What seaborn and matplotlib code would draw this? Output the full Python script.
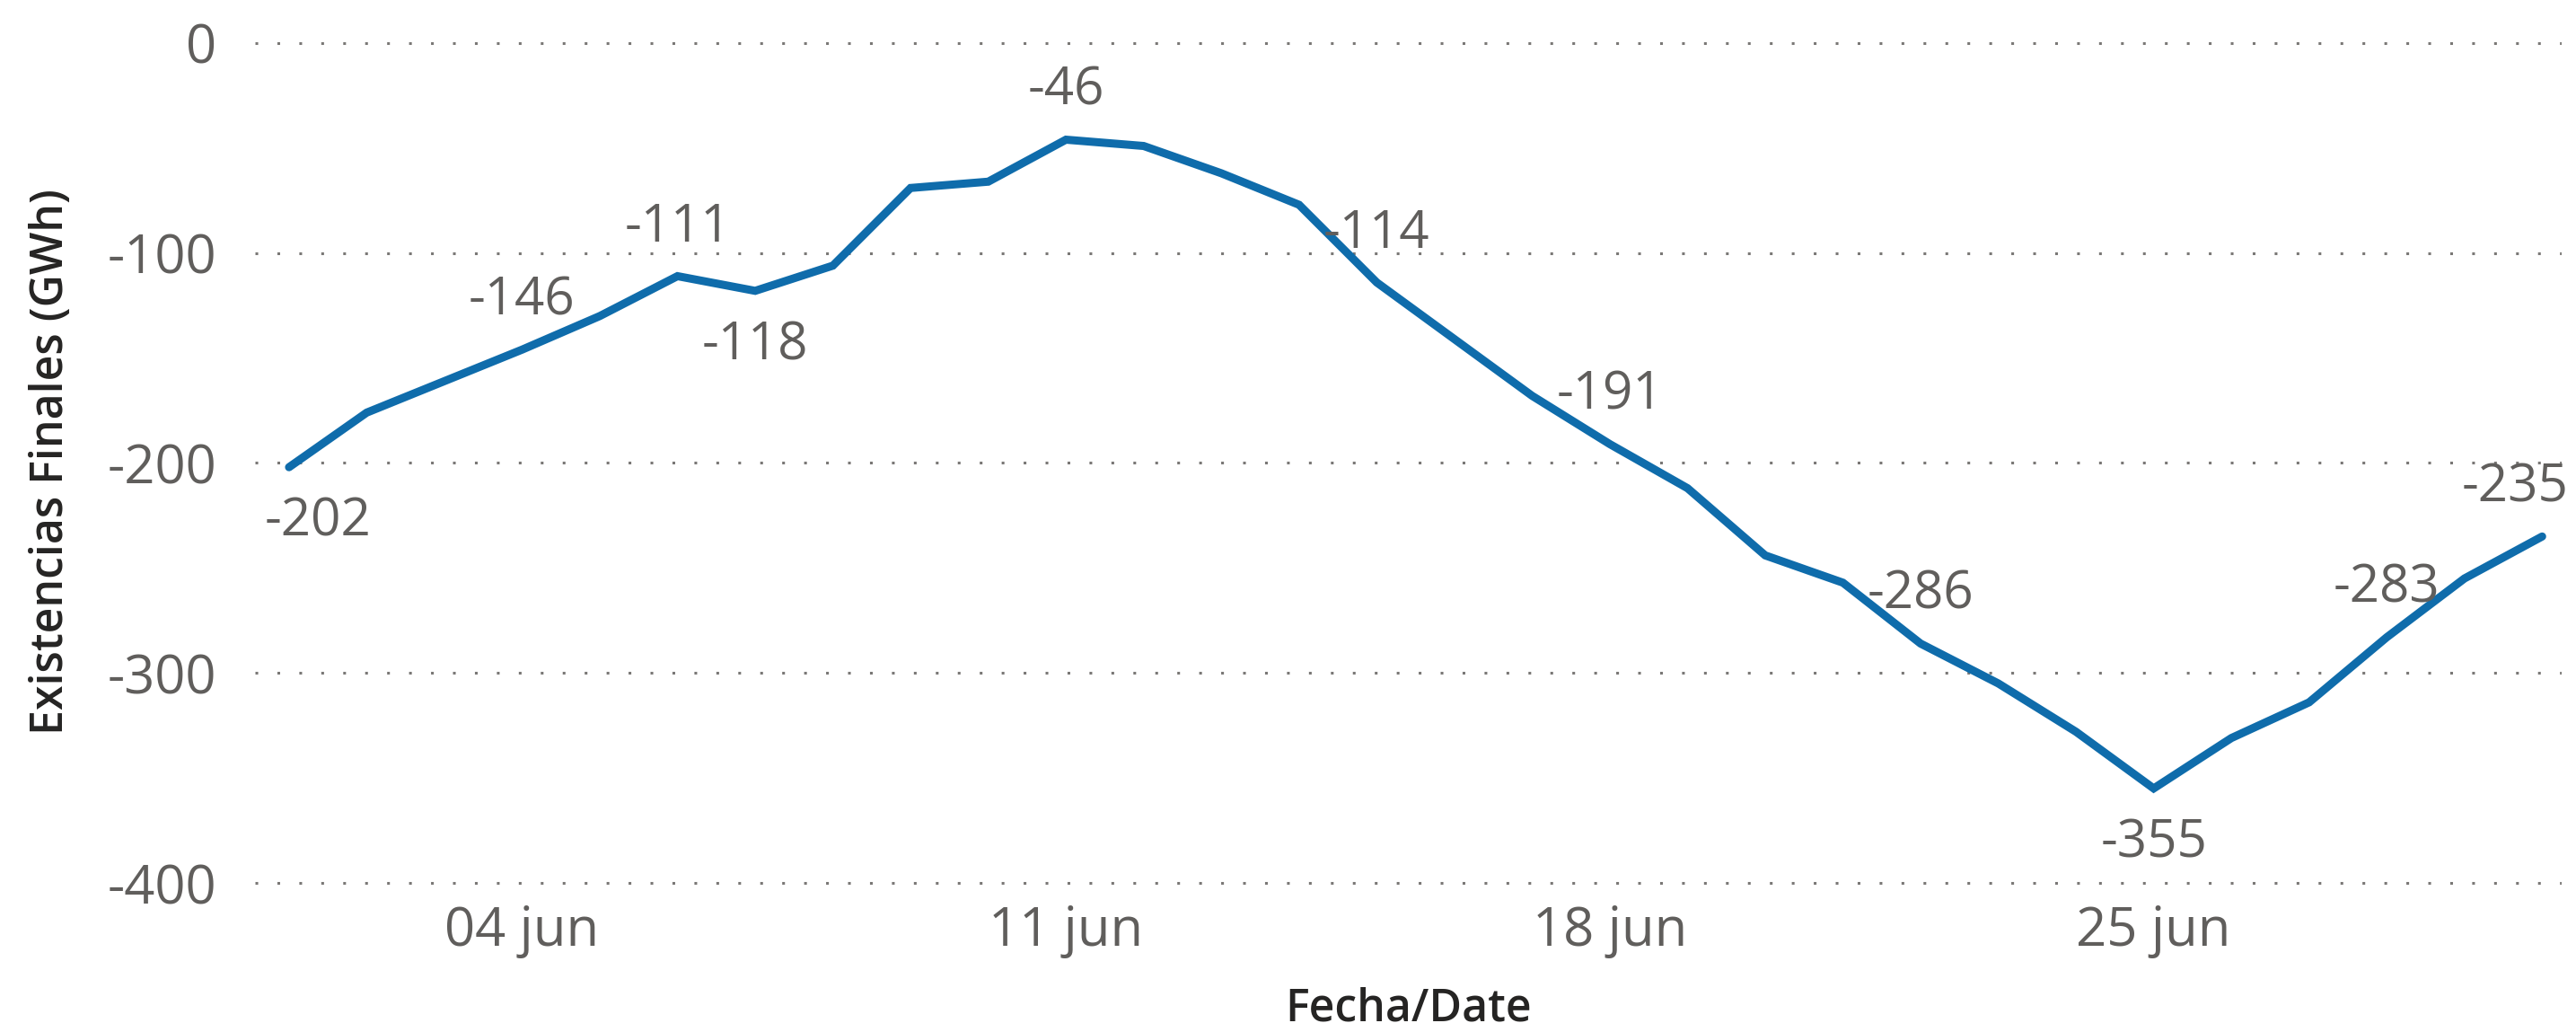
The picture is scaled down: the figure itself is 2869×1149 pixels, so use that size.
import matplotlib
matplotlib.use("Agg")
import matplotlib.pyplot as plt
import seaborn as sns
import pandas as pd

# Data (GWh)
fechas = pd.date_range("2023-06-01", "2023-06-30", freq="D")
existencias = [-202, -176, -161, -146, -130, -111, -118, -106, -69, -66,
               -46, -49, -62, -77, -114, -141, -168, -191, -212, -244,
               -257, -286, -305, -328, -355, -331, -314, -283, -255, -235]

# days that carry a data label, and whether the label sits below the point
label_days = [1, 4, 6, 7, 11, 15, 18, 22, 25, 28, 30]
label_below = [True, False, False, True, False, False, False, False, True, False, False]
label_dx = [23, 0, 0, 0, 0, 0, 0, 0, 0, 0, -22]

tick_days = ["2023-06-04", "2023-06-11", "2023-06-18", "2023-06-25"]
tick_labels = ["04 jun", "11 jun", "18 jun", "25 jun"]
y_ticks = [0, -100, -200, -300, -400]

df = pd.DataFrame({"Fecha": fechas, "Existencias": existencias})

sns.set_style("white")
plt.rcParams["font.family"] = ["Open Sans", "DejaVu Sans"]
plt.rcParams["axes.unicode_minus"] = False

gray = "#605E5C"
dark = "#252423"
blue = "#0F6CAB"

fig = plt.figure(figsize=(28.69, 11.49), dpi=100)
ax = fig.add_axes([0.099, 0.1404, 0.8954, 0.8219])

sns.lineplot(data=df, x="Fecha", y="Existencias", color=blue, linewidth=6.5,
             ax=ax, solid_joinstyle="miter", solid_capstyle="round")

# data labels
for d, below, dx in zip(label_days, label_below, label_dx):
    v = existencias[d - 1]
    ax.annotate(f"{v}", xy=(fechas[d - 1], v), xytext=(dx, -44 if below else 39),
                textcoords="offset points", ha="center", va="center",
                fontsize=42, color=gray)

ax.set_xlim(fechas[0] - pd.Timedelta(hours=10.5), fechas[-1] + pd.Timedelta(hours=6))
ax.set_ylim(-402, 2)

ax.set_xticks(pd.to_datetime(tick_days))
ax.set_xticklabels(tick_labels)
ax.set_yticks(y_ticks)
ax.set_yticklabels([str(t) for t in y_ticks])
ax.tick_params(axis="both", length=0, labelsize=43, colors=gray)
ax.tick_params(axis="y", pad=31)
ax.tick_params(axis="x", pad=14)

ax.yaxis.grid(True, linestyle=(0, (1, 7)), linewidth=2.2, color="#7a7876")
ax.xaxis.grid(False)
for s in ax.spines.values():
    s.set_visible(False)

ax.set_xlabel("Fecha/Date", fontsize=36, color=dark, fontweight="semibold")
ax.xaxis.set_label_coords(0.5, -0.1433)
ax.xaxis.label.set_va("center")
ax.set_ylabel("Existencias Finales (GWh)", fontsize=36, color=dark, fontweight="semibold")
ax.yaxis.set_label_coords(-0.0884, 0.502)
ax.yaxis.label.set_va("center")

fig.savefig("out.png", dpi=100)
